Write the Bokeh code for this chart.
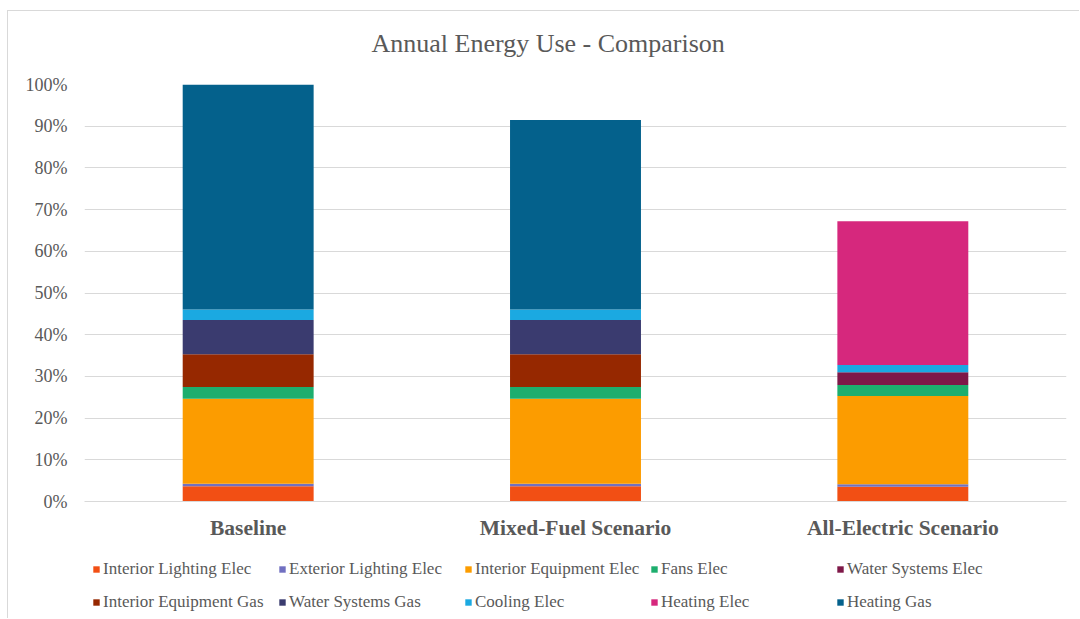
from bokeh.plotting import figure
from bokeh.layouts import column
from bokeh.models import (FactorRange, Range1d, FixedTicker, NumeralTickFormatter, Legend,
                          LegendItem, Title)
from bokeh.embed import file_html
from bokeh.resources import INLINE

scenarios = ["Baseline", "Mixed-Fuel Scenario", "All-Electric Scenario"]
end_uses = ["Interior Lighting Elec", "Exterior Lighting Elec", "Interior Equipment Elec",
            "Fans Elec", "Water Systems Elec", "Interior Equipment Gas",
            "Water Systems Gas", "Cooling Elec", "Heating Elec", "Heating Gas"]

interior_lighting_elec = [0.0368, 0.0368, 0.0355]
exterior_lighting_elec = [0.0055, 0.0055, 0.0058]
interior_equipment_elec = [0.2043, 0.2043, 0.2117]
fans_elec = [0.0282, 0.0282, 0.0266]
water_systems_elec = [0.0, 0.0, 0.0304]
interior_equipment_gas = [0.0786, 0.0786, 0.0]
water_systems_gas = [0.0817, 0.0817, 0.0]
cooling_elec = [0.0255, 0.0255, 0.0176]
heating_elec = [0.0, 0.0, 0.3444]
heating_gas = [0.5394, 0.4540, 0.0]

y_ticks = [0.0, 0.1, 0.2, 0.3, 0.4, 0.5, 0.6, 0.7, 0.8, 0.9, 1.0]

colors = ["#F24F14", "#7170C1", "#FC9C00", "#1DAE6E", "#7E1848",
          "#962800", "#3A3B6F", "#1BA9E1", "#D6287D", "#04618C"]

series = [interior_lighting_elec, exterior_lighting_elec, interior_equipment_elec,
          fans_elec, water_systems_elec, interior_equipment_gas, water_systems_gas,
          cooling_elec, heating_elec, heating_gas]

data = {"scenario": scenarios}
for name, vals in zip(end_uses, series):
    data[name] = vals

TEXT = "#595959"
GRID = "#D9D9D9"
SERIF = "Liberation Serif"

# ---------------- main chart ----------------
p = figure(x_range=FactorRange(factors=scenarios), y_range=Range1d(0, 1),
           width=1072, height=534, margin=(10, 0, 0, 7),
           output_backend="svg", toolbar_location=None,
           min_border_left=76, min_border_right=14, min_border_top=73, min_border_bottom=44)
p.styles = {"border-left": "1px solid #D9D9D9", "border-top": "1px solid #D9D9D9"}

p.vbar_stack(end_uses, x="scenario", width=0.4, color=colors, line_color=None, source=data)

# spacer between the frame and the title, then the title itself
spacer = Title(text=" ", text_font_size="1px", standoff=24)
title = Title(text="Annual Energy Use - Comparison", text_font=SERIF, text_font_size="26px",
              text_font_style="normal", text_color=TEXT, align="left", offset=287, standoff=0)
p.add_layout(spacer, "above")
p.add_layout(title, "above")

p.outline_line_color = None
p.xgrid.grid_line_color = None
p.ygrid.grid_line_color = GRID
p.ygrid.grid_line_width = 1

p.yaxis.ticker = FixedTicker(ticks=y_ticks)
p.yaxis.formatter = NumeralTickFormatter(format="0%")
p.yaxis.axis_line_color = None
p.yaxis.major_tick_line_color = None
p.yaxis.minor_tick_line_color = None
p.yaxis.major_tick_out = 0
p.yaxis.major_tick_in = 0
p.yaxis.major_label_standoff = 17
p.yaxis.major_label_text_font = SERIF
p.yaxis.major_label_text_font_size = "18px"
p.yaxis.major_label_text_color = TEXT

p.xaxis.axis_line_color = GRID
p.xaxis.major_tick_line_color = None
p.xaxis.major_tick_out = 0
p.xaxis.major_tick_in = 0
p.xaxis.major_label_standoff = 14
p.xaxis.major_label_text_font = SERIF
p.xaxis.major_label_text_font_style = "bold"
p.xaxis.major_label_text_font_size = "21.5px"
p.xaxis.major_label_text_color = TEXT

# ---------------- legend strip ----------------
leg = figure(x_range=Range1d(0, 1), y_range=Range1d(0, 1), width=1072, height=74,
             margin=(0, 0, 0, 7), output_backend="svg", toolbar_location=None,
             min_border=0)
leg.styles = {"border-left": "1px solid #D9D9D9"}
leg.axis.visible = False
leg.grid.visible = False
leg.outline_line_color = None

# swatch renderers: zero-size bars that only provide the legend colours
swatches = [leg.vbar(x=[0], top=[0], bottom=[0], width=0, color=c, line_color=None)
            for c in colors]
items = [LegendItem(label=name, renderers=[r]) for name, r in zip(end_uses, swatches)]

for row, loc in ((items[:5], (8, 39)), (items[5:], (8, 6))):
    legend = Legend(items=row, orientation="horizontal", location=loc,
                    label_text_font=SERIF, label_text_font_size="17px", label_text_color=TEXT,
                    glyph_width=8, glyph_height=8, label_standoff=3, spacing=2,
                    label_width=173, label_height=20, padding=0, margin=0,
                    border_line_color=None, background_fill_alpha=0)
    leg.add_layout(legend)

layout = column(p, leg, spacing=0)
open("out.html", "w").write(file_html(layout, INLINE))
